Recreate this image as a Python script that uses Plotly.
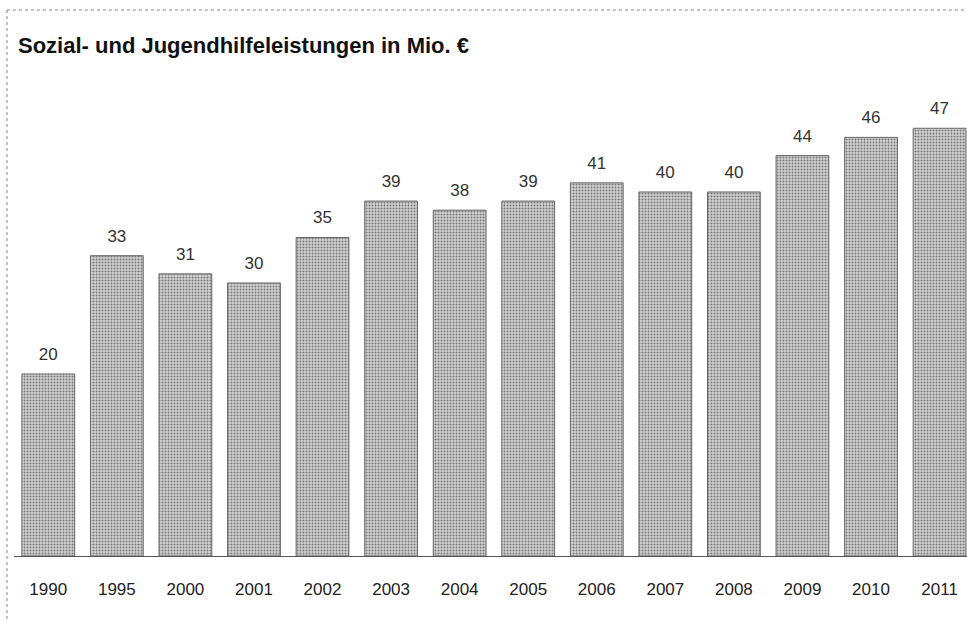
import plotly.graph_objects as go

years = ["1990", "1995", "2000", "2001", "2002", "2003", "2004",
         "2005", "2006", "2007", "2008", "2009", "2010", "2011"]
values = [20, 33, 31, 30, 35, 39, 38, 39, 41, 40, 40, 44, 46, 47]
labels = ["20", "33", "31", "30", "35", "39", "38", "39", "41", "40", "40", "44", "46", "47"]
title_text = "Sozial- und Jugendhilfeleistungen in Mio. €"

W, H = 967, 621
ml, mr, mt, mb = 14, 0, 60, 65
pw = W - ml - mr
ph = H - mt - mb

def px_to_paper_x(px):
    return (px - ml) / pw

def px_to_paper_y(py):
    return (H - mb - py) / ph

FONT = "Liberation Sans, Arial"

fig = go.Figure()
fig.add_trace(go.Bar(
    x=years, y=values,
    marker=dict(color="#c0c0c0",
                line=dict(color="#666", width=1),
                pattern=dict(shape=".", fgcolor="#777777", bgcolor="#d2d2d2",
                             size=3, solidity=0.35, fillmode="replace")),
    cliponaxis=False,
    hoverinfo="skip",
))
fig.add_trace(go.Scatter(
    x=years, y=values, text=labels, mode="markers+text",
    textposition="top center",
    marker=dict(size=14, opacity=0),
    textfont=dict(family=FONT, size=17, color="#333"),
    cliponaxis=False,
    hoverinfo="skip",
))

fig.update_layout(
    width=W, height=H,
    margin=dict(l=ml, r=mr, t=mt, b=mb),
    paper_bgcolor="white", plot_bgcolor="white",
    bargap=0.23,
    showlegend=False,
    title=dict(text="<b>" + title_text + "</b>", x=18 / W, xanchor="left",
               y=1 - 45 / H, yanchor="middle",
               font=dict(family=FONT, size=22, color="#111")),
    xaxis=dict(type="category", range=[-0.5, 13.4], showline=True,
               linecolor="#555", linewidth=1, ticks="", showgrid=False,
               tickfont=dict(family=FONT, size=17, color="#222"),
               ticklabelstandoff=18),
    yaxis=dict(range=[0, 54.5], visible=False, showgrid=False),
    shapes=[
        dict(type="line", xref="paper", yref="paper",
             x0=px_to_paper_x(7), x1=px_to_paper_x(967),
             y0=px_to_paper_y(10), y1=px_to_paper_y(10),
             line=dict(color="#888", width=1, dash="dot")),
        dict(type="line", xref="paper", yref="paper",
             x0=px_to_paper_x(7), x1=px_to_paper_x(7),
             y0=px_to_paper_y(10), y1=px_to_paper_y(621),
             line=dict(color="#888", width=1, dash="dot")),
    ],
)

fig.write_html("out.html",
               config={"displayModeBar": False},
               post_script="document.body.style.margin='0px';document.body.style.overflow='hidden';")
